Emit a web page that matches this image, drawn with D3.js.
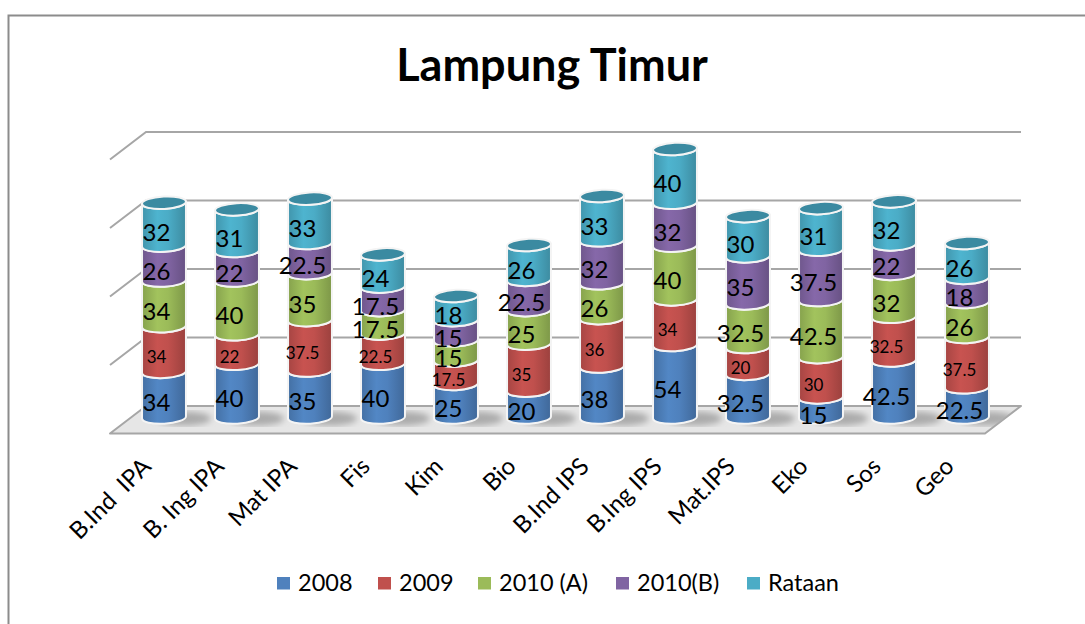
<!DOCTYPE html>
<html>
<head>
<meta charset="utf-8">
<title>Lampung Timur</title>
<script src="https://cdn.jsdelivr.net/npm/d3@7"></script>
<style>
    html, body { margin: 0; padding: 0; background: #fff; }
    svg { display: block; }
    text { font-family: Lato, "Open Sans", sans-serif; fill: #000; white-space: pre; }
</style>
</head>
<body>
<svg id="chart"></svg>
<script>
const categories = ['B.Ind  IPA', 'B. Ing IPA', 'Mat IPA', 'Fis', 'Kim', 'Bio', 'B.Ind IPS', 'B.Ing IPS', 'Mat.IPS', 'Eko', 'Sos', 'Geo'];
const seriesNames = ['2008', '2009', '2010 (A)', '2010(B)', 'Rataan'];
const values2008 = [34, 40, 35, 40, 25, 20, 38, 54, 32.5, 15, 42.5, 22.5];
const values2009 = [34, 22, 37.5, 22.5, 17.5, 35, 36, 34, 20, 30, 32.5, 37.5];
const values2010A = [34, 40, 35, 17.5, 15, 25, 26, 40, 32.5, 42.5, 32, 26];
const values2010B = [26, 22, 22.5, 17.5, 15, 22.5, 32, 32, 35, 37.5, 22, 18];
const valuesRataan = [32, 31, 33, 24, 18, 26, 33, 40, 30, 31, 32, 26];
const seriesColors = ['#4f81bd', '#c0504d', '#9bbb59', '#8064a2', '#4bacc6'];
const gridTicks = [0, 50, 100, 150, 200];

const width = 1085;
const height = 624;

const rows = categories.map((name, i) => ({
    name,
    [seriesNames[0]]: values2008[i],
    [seriesNames[1]]: values2009[i],
    [seriesNames[2]]: values2010A[i],
    [seriesNames[3]]: values2010B[i],
    [seriesNames[4]]: valuesRataan[i]
}));
const stacked = d3.stack().keys(seriesNames)(rows);

const svg = d3.select('#chart').attr('width', width).attr('height', height);
const defs = svg.append('defs');

// Cylinder shading, one horizontal gradient per series
seriesColors.forEach((c, i) => {
    const base = d3.rgb(c);
    const grad = defs.append('linearGradient').attr('id', 'cyl-' + i);
    grad.append('stop').attr('offset', '0%').attr('stop-color', base.darker(0.4));
    grad.append('stop').attr('offset', '35%').attr('stop-color', base.brighter(0.12));
    grad.append('stop').attr('offset', '60%').attr('stop-color', base);
    grad.append('stop').attr('offset', '100%').attr('stop-color', base.darker(0.6));
});
defs.append('filter').attr('id', 'blur').append('feGaussianBlur').attr('stdDeviation', 3);

// Chart frame, only left and top edges are visible in the crop
svg.append('path')
    .attr('d', `M8.5,${height} V15.5 H${width}`)
    .attr('fill', 'none')
    .attr('stroke', '#8c8c8c')
    .attr('stroke-width', 2);

svg.append('text')
    .attr('x', 552)
    .attr('y', 81)
    .attr('text-anchor', 'middle')
    .attr('font-size', '45px')
    .attr('font-weight', '700')
    .text('Lampung Timur');

// Scales: the wall grid sits behind the columns, the columns on their own range
const x = d3.scalePoint().domain(categories).range([164, 967]);
const y = d3.scaleLinear().domain([0, 200]).range([417.5, 149]);
const wallY = d3.scaleLinear().domain([0, 200]).range([406, 132]);
const depthX = -36;
const depthY = 27.5;
const wallLeft = 146;
const wallRight = 1021;
const gridColor = '#a6a6a6';

// Floor
const floorBack = wallY(0);
const floorPath = `M${wallLeft},${floorBack} H${wallRight} L${wallRight + depthX},${floorBack + depthY} H${wallLeft + depthX} Z`;
svg.append('path')
    .attr('d', floorPath)
    .attr('fill', '#e6e6e6')
    .attr('stroke', gridColor)
    .attr('stroke-width', 2)
    .attr('stroke-linejoin', 'round');

// Walls
svg.append('g').selectAll('path')
    .data(gridTicks.filter(d => d > 0))
    .enter()
    .append('path')
    .attr('d', d => `M${wallLeft + depthX},${wallY(d) + depthY} L${wallLeft},${wallY(d)} H${wallRight}`)
    .attr('fill', 'none')
    .attr('stroke', gridColor)
    .attr('stroke-width', 2);

// Column shadows on the floor
defs.append('clipPath').attr('id', 'floor-clip').append('path').attr('d', floorPath);
svg.append('g').attr('clip-path', 'url(#floor-clip)')
    .selectAll('ellipse')
    .data(categories)
    .enter()
    .append('ellipse')
    .attr('cx', d => x(d) + 20)
    .attr('cy', y(0) + 1)
    .attr('rx', 27)
    .attr('ry', 7)
    .attr('fill', '#ababab')
    .attr('filter', 'url(#blur)');

// Cylinder geometry
const rx = 22;
const ry = 6.2;
const tilt = -3;
const tiltRad = tilt * Math.PI / 180;
const edgeX = rx * Math.cos(tiltRad);
const edgeY = rx * Math.sin(tiltRad);

function segmentPath(cx, yBottom, yTop) {
    const lx = cx - edgeX, rX = cx + edgeX;
    return `M${lx},${yBottom - edgeY}`
        + ` A${rx},${ry} ${tilt} 0 0 ${rX},${yBottom + edgeY}`
        + ` L${rX},${yTop + edgeY}`
        + ` A${rx},${ry} ${tilt} 0 1 ${lx},${yTop - edgeY} Z`;
}

const columns = svg.append('g');
stacked.forEach((layer, s) => {
    columns.append('g')
        .selectAll('path')
        .data(layer)
        .enter()
        .append('path')
        .attr('d', d => segmentPath(x(d.data.name), y(d[0]), y(d[1])))
        .attr('fill', `url(#cyl-${s})`)
        .attr('stroke', '#f4f4f4')
        .attr('stroke-width', 2)
        .attr('stroke-linejoin', 'round');
});

// Top caps
const topLayer = stacked[stacked.length - 1];
columns.append('g')
    .selectAll('ellipse')
    .data(topLayer)
    .enter()
    .append('ellipse')
    .attr('transform', d => `translate(${x(d.data.name)},${y(d[1])}) rotate(${tilt})`)
    .attr('rx', rx)
    .attr('ry', ry)
    .attr('fill', '#3b8aa1')
    .attr('stroke', '#f4f4f4')
    .attr('stroke-width', 2);

// Data labels, the 2009 series uses a smaller size
const labels = svg.append('g').attr('text-anchor', 'middle');
stacked.forEach((layer, s) => {
    labels.append('g')
        .selectAll('text')
        .data(layer)
        .enter()
        .append('text')
        .attr('x', d => x(d.data.name) - 7.5)
        .attr('y', d => y((d[0] + d[1]) / 2) + 8)
        .attr('dy', '0.35em')
        .attr('font-size', s === 1 ? '17px' : '24px')
        .text(d => d.data[layer.key]);
});

// Category labels
const axis = svg.append('g')
    .attr('transform', 'translate(0,451)')
    .call(d3.axisBottom(x).tickSize(0).tickPadding(0));
axis.select('.domain').remove();
axis.selectAll('text')
    .attr('font-size', '24px')
    .attr('text-anchor', 'end')
    .attr('dy', '0.35em')
    .attr('transform', 'translate(-18,11) rotate(-45)');

// Legend
const legendX = [277, 378, 478, 616, 747];
const legend = svg.append('g')
    .selectAll('g')
    .data(seriesNames)
    .enter()
    .append('g')
    .attr('transform', (d, i) => `translate(${legendX[i]},583)`);
legend.append('rect')
    .attr('y', -6)
    .attr('width', 13)
    .attr('height', 12.5)
    .attr('fill', (d, i) => seriesColors[i]);
legend.append('text')
    .attr('x', 21)
    .attr('dy', '0.35em')
    .attr('font-size', '23.5px')
    .text(d => d);
</script>
</body>
</html>
